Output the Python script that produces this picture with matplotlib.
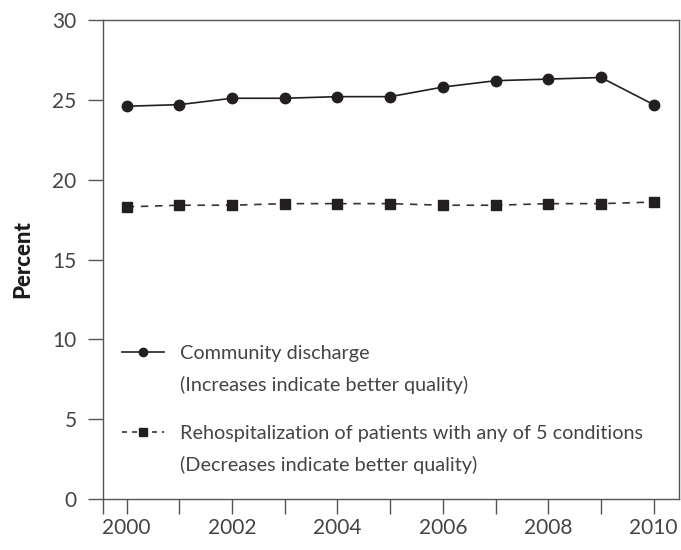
import matplotlib
matplotlib.use('Agg')
import matplotlib.pyplot as plt
from matplotlib.lines import Line2D

# values
years = [2000, 2001, 2002, 2003, 2004, 2005, 2006, 2007, 2008, 2009, 2010]
community_discharge = [24.6, 24.7, 25.1, 25.1, 25.2, 25.2, 25.8, 26.2, 26.3, 26.4, 24.7]
rehospitalization = [18.3, 18.4, 18.4, 18.5, 18.5, 18.5, 18.4, 18.4, 18.5, 18.5, 18.6]
year_labels = ['2000', '', '2002', '', '2004', '', '2006', '', '2008', '', '2010']
y_ticks = [0, 5, 10, 15, 20, 25, 30]

plt.rcParams['font.family'] = ['Lato', 'DejaVu Sans']
txt_col = '#444444'
spine_col = '#555555'

fig = plt.figure(figsize=(6.81, 5.5), dpi=100)
ax = fig.add_axes([0.1512, 0.0927, 0.8458, 0.8709])

ax.plot(years, community_discharge, '-', color='#231f20', lw=1.2,
        marker='o', ms=7.5, label='Community discharge')
ax.plot(years, rehospitalization, color='#333333', lw=1.2, ls=(0, (4.5, 4)),
        marker='s', ms=7, mfc='#231f20', mec='#231f20',
        label='Rehospitalization of patients with any of 5 conditions')

ax.set_xlim(1999.55, 2010.48)
ax.set_ylim(0, 30)

# year ticks plus one at the left edge of the frame
xt = [ax.get_xlim()[0]] + years
ax.set_xticks(xt)
ax.set_xticklabels([''] + year_labels)
ax.set_yticks(y_ticks)
ax.tick_params(axis='x', direction='out', length=11, width=1, color=spine_col,
               labelsize=15, labelcolor=txt_col, pad=3)
ax.tick_params(axis='y', direction='out', length=11, width=1, color=spine_col,
               labelsize=15, labelcolor=txt_col, pad=8)
for s in ax.spines.values():
    s.set_color(spine_col)
    s.set_linewidth(1.0)

ax.set_ylabel('Percent', fontsize=16, fontweight='black', color='#1a1a1a', labelpad=14)

# legend in two blocks so the handle sits on the first text line
blank = Line2D([], [], color='none')
h1 = Line2D([], [], color='#231f20', lw=1.2, marker='o', ms=6)
h2 = Line2D([], [], color='#333333', lw=1.2, ls=(0, (3, 3)), marker='s', ms=6,
            mfc='#231f20', mec='#231f20')
leg_kw = dict(frameon=False, prop={'size': 14.3}, labelcolor=txt_col,
              handlelength=2.1, handletextpad=0.8, labelspacing=0.72, borderaxespad=0,
              borderpad=0, loc='upper left')
leg1 = ax.legend([h1, blank], ['Community discharge', '(Increases indicate better quality)'],
                 bbox_to_anchor=(0.033, 0.322), **leg_kw)
ax.add_artist(leg1)
ax.legend([h2, blank], ['Rehospitalization of patients with any of 5 conditions',
                        '(Decreases indicate better quality)'],
          bbox_to_anchor=(0.033, 0.155), **leg_kw)

fig.savefig('out.png', dpi=100)
